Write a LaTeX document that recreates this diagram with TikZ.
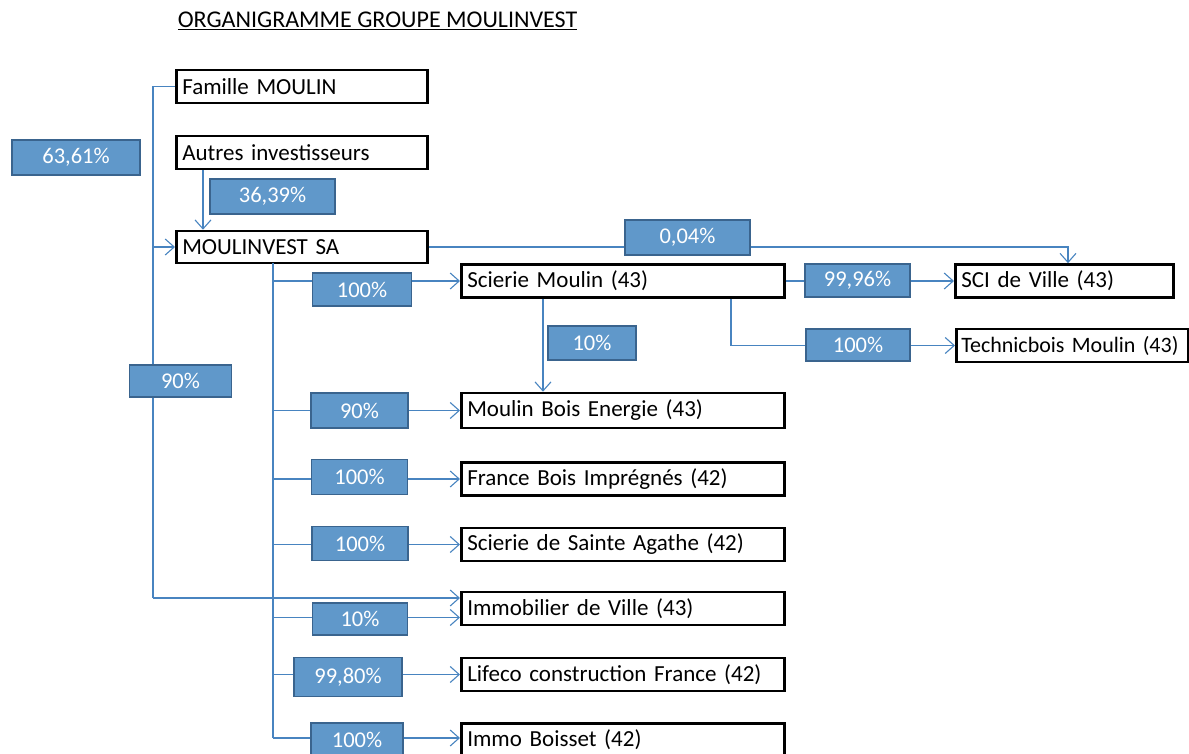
\documentclass[tikz,border=0pt]{standalone}
\usepackage{fontspec}
\setmainfont{Carlito}
\usetikzlibrary{arrows.meta}
\definecolor{pctfill}{RGB}{96,152,202}
\definecolor{pctdraw}{RGB}{58,100,142}
\definecolor{linkcol}{RGB}{72,132,192}
\tikzset{
  ent/.style={draw=black, line width=2.6pt, anchor=west, inner xsep=6pt, inner ysep=0pt,
    minimum height=33pt, align=left, font=\fontsize{23}{27}\selectfont},
  pct/.style={fill=pctfill, draw=pctdraw, line width=1.8pt, text=white, inner sep=0pt,
    font=\fontsize{22.5}{26}\selectfont},
  link/.style={draw=linkcol, line width=1.1pt},
  arr/.style={link, -{Straight Barb[length=9pt,width=16pt,line width=1.1pt]}}
}
\begin{document}
\begin{tikzpicture}[x=1pt,y=-1pt]
\useasboundingbox (0,0) rectangle (1189,754);
\node[font=\fontsize{24}{28}\selectfont, anchor=base] (title) at (377.5,28) {\underline{ORGANIGRAMME GROUPE MOULINVEST}};
% entities
\node[ent, text width=239pt] (fam) at (175,86.5) {Famille MOULIN};
\node[ent, text width=239pt] (autres) at (175,152.5) {Autres investisseurs};
\node[ent, text width=239pt, minimum height=32pt] (msa) at (175,247) {MOULINVEST SA};
\node[ent, text width=311pt] (scierie) at (460,281) {Scierie Moulin (43)};
\node[ent, text width=206pt] (sci) at (954,281) {SCI de Ville (43)};
\node[ent, inner xsep=5pt, text width=222pt, font=\fontsize{22}{26}\selectfont] (techni) at (955,345.5) {\mbox{Technicbois Moulin (43)}};
\node[ent, text width=311pt, minimum height=35pt] (mbe) at (460,410.5) {Moulin Bois Energie (43)};
\node[ent, text width=311pt] (fbi) at (460,479) {France Bois Imprégnés (42)};
\node[ent, text width=311pt] (ssa) at (460,544.5) {Scierie de Sainte Agathe (42)};
\node[ent, text width=311pt] (imv) at (460,608.5) {Immobilier de Ville (43)};
\node[ent, text width=311pt] (lif) at (460,674.5) {Lifeco construction France (42)};
\node[ent, text width=311pt] (immo) at (460,740) {Immo Boisset (42)};
% coordinates for trunks
\coordinate (ltop) at (153,86.5);
\coordinate (lmid) at (153,247);
\coordinate (lbot) at (153,598);
\coordinate (itop) at (273,263);
\coordinate (ibot) at (273,738);
% connectors
\draw[link] (fam.west) -- (ltop) -- (lbot);
\draw[arr] (lbot) -- ([yshift=10.5pt]imv.west);
\draw[arr] (lmid) -- (msa.west);
\draw[arr] ([xshift=28pt]autres.south west) -- ([xshift=28pt]msa.north west);
\draw[arr] (msa.east) -| ([xshift=114pt]sci.north west);
\draw[link] (itop) -- (ibot);
\draw[arr] (itop |- scierie.west) -- (scierie.west);
\draw[arr] (itop |- mbe.west) -- (mbe.west);
\draw[arr] (itop |- fbi.west) -- (fbi.west);
\draw[arr] (itop |- ssa.west) -- (ssa.west);
\draw[arr] ([yshift=-9pt]imv.west -| itop) -- ([yshift=-9pt]imv.west);
\draw[arr] (itop |- lif.west) -- (lif.west);
\draw[arr] (ibot) -- (ibot -| immo.west);
\draw[arr] ([xshift=83pt]scierie.south west) -- ([xshift=83pt]mbe.north west);
\draw[arr] (scierie.east) -- (sci.west);
\draw[arr] ([xshift=271pt]scierie.south west) |- (techni.west);
% percentage labels
\node[pct, minimum width=128pt, minimum height=35pt] (p1) at (76,157.5) {63,61\%};
\node[pct, minimum width=125pt, minimum height=35pt] (p2) at (272.5,196.5) {36,39\%};
\node[pct, minimum width=125pt, minimum height=35pt] (p3) at (687.5,237.5) {0,04\%};
\node[pct, minimum width=99pt, minimum height=33pt] (p4) at (362,289.5) {100\%};
\node[pct, minimum width=105pt, minimum height=33pt] (p5) at (857.5,280.5) {99,96\%};
\node[pct, minimum width=88pt, minimum height=34pt] (p6) at (592,343) {10\%};
\node[pct, minimum width=104pt, minimum height=32pt] (p7) at (858,345) {100\%};
\node[pct, minimum width=102pt, minimum height=32pt] (p8) at (180.5,381) {90\%};
\node[pct, minimum width=97pt, minimum height=35pt] (p9) at (359.5,410.5) {90\%};
\node[pct, minimum width=96pt, minimum height=35pt] (p10) at (359.5,477) {100\%};
\node[pct, minimum width=96pt, minimum height=34pt] (p11) at (360,543.5) {100\%};
\node[pct, minimum width=95pt, minimum height=32pt] (p12) at (360,619) {10\%};
\node[pct, minimum width=108pt, minimum height=39pt] (p13) at (348,677) {99,80\%};
\node[pct, minimum width=92pt, minimum height=34pt] (p14) at (357,740) {100\%};
\end{tikzpicture}
\end{document}
